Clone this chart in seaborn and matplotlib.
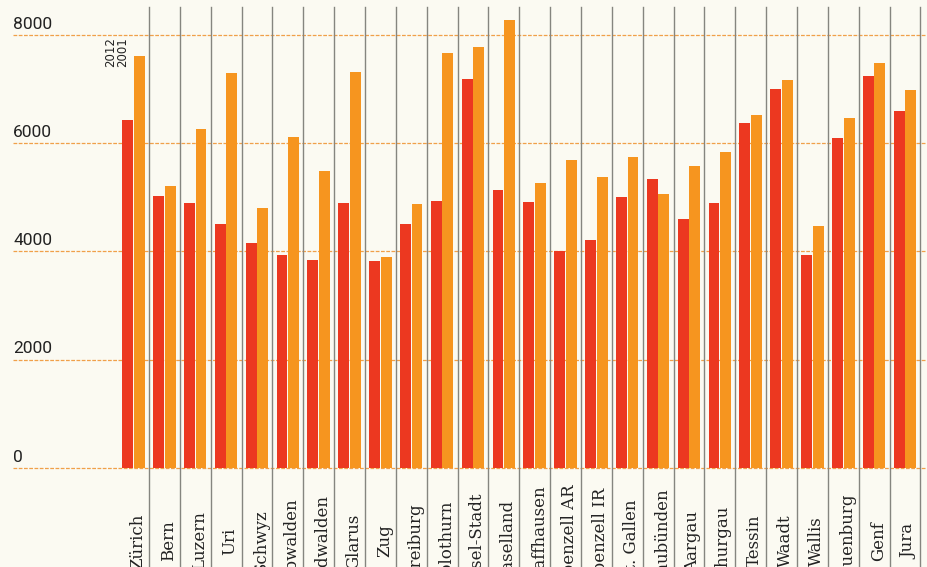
import pandas as pd
import numpy as np
import matplotlib
matplotlib.use("Agg")
import matplotlib.pyplot as plt
import seaborn as sb

#%% Daten
kantone = ["Zürich", "Bern", "Luzern", "Uri", "Schwyz", "Obwalden", "Nidwalden",
           "Glarus", "Zug", "Freiburg", "Solothurn", "Basel-Stadt", "Baselland",
           "Schaffhausen", "Appenzell AR", "Appenzell IR", "St. Gallen",
           "Graubünden", "Aargau", "Thurgau", "Tessin", "Waadt", "Wallis",
           "Neuenburg", "Genf", "Jura"]

werte_2012 = [6430, 5020, 4900, 4505, 4150, 3930, 3845, 4900, 3815, 4505,
              4935, 7185, 5130, 4905, 4010, 4210, 5000, 5345, 4590, 4890,
              6365, 7000, 3930, 6090, 7240, 6595]

werte_2001 = [7610, 5215, 6255, 7290, 4795, 6115, 5485, 7320, 3895, 4880,
              7670, 7775, 8270, 5270, 5690, 5370, 5740, 5060, 5580, 5830,
              6520, 7170, 4475, 6465, 7485, 6975]

jahre = ["2012", "2001"]
y_ticks = [0, 2000, 4000, 6000, 8000]

df = pd.DataFrame({
    "kanton": kantone * 2,
    "jahr": [jahre[0]] * len(kantone) + [jahre[1]] * len(kantone),
    "wert": werte_2012 + werte_2001,
})

#%% Layout
bg = "#fbfaf2"
rot = "#ec3820"
orange = "#f6951f"

px_per_unit = 0.0541   # pixel pro Einheit
y0_px = 467.7          # Nulllinie in Pixel
x0_px = 133.5          # Mitte Zürich
dx_px = 30.86          # Abstand Kantone

W, H = 928, 567

fig = plt.figure(figsize=(W / 100, H / 100), dpi=100, facecolor=bg)
ax = fig.add_axes([0, 0, 1, 1])
ax.set_facecolor(bg)

sb.barplot(data=df, x="kanton", y="wert", hue="jahr", hue_order=jahre,
           palette=[rot, orange], saturation=1, width=0.75, gap=0.06,
           linewidth=0, legend=False, ax=ax, zorder=3)

ax.set_xlim(-x0_px / dx_px, (W - x0_px) / dx_px)
ax.set_ylim((y0_px - H) / px_per_unit, y0_px / px_per_unit)
ax.axis("off")

# Gitterlinien
for t in y_ticks:
    ax.axhline(t, xmin=13 / W, xmax=1, color="#f0a04a", lw=0.9,
               ls=(0, (3, 1.2)), zorder=1)
    ax.text(-x0_px / dx_px + 13 / dx_px, t + 6 / px_per_unit, str(t),
            family="Roboto", fontsize=12.5, color="#222222",
            ha="left", va="baseline")

# Trennlinien
for i in range(len(kantone)):
    ax.plot([i + 0.5, i + 0.5], [-3000, (y0_px - 7.3) / px_per_unit],
            color="#85857f", lw=1.0, zorder=2, clip_on=False)

# Kantonsnamen (unten vom Bildrand abgeschnitten wie im Original)
for i, k in enumerate(kantone):
    ax.text(i + 0.13, (y0_px - 541) / px_per_unit, k, rotation=90,
            family="DejaVu Serif", fontsize=12, color="#222222",
            ha="center", va="center", rotation_mode="anchor")

# Legende
ax.text((111 - x0_px) / dx_px, (y0_px - 67) / px_per_unit, jahre[0],
        rotation=90, family="DejaVu Sans", fontsize=8.5, color="#222222",
        ha="center", va="bottom")
ax.text((122.5 - x0_px) / dx_px, (y0_px - 67) / px_per_unit, jahre[1],
        rotation=90, family="DejaVu Sans", fontsize=8.5, color="#222222",
        ha="center", va="bottom")

fig.savefig("out.png", dpi=100, facecolor=bg)
